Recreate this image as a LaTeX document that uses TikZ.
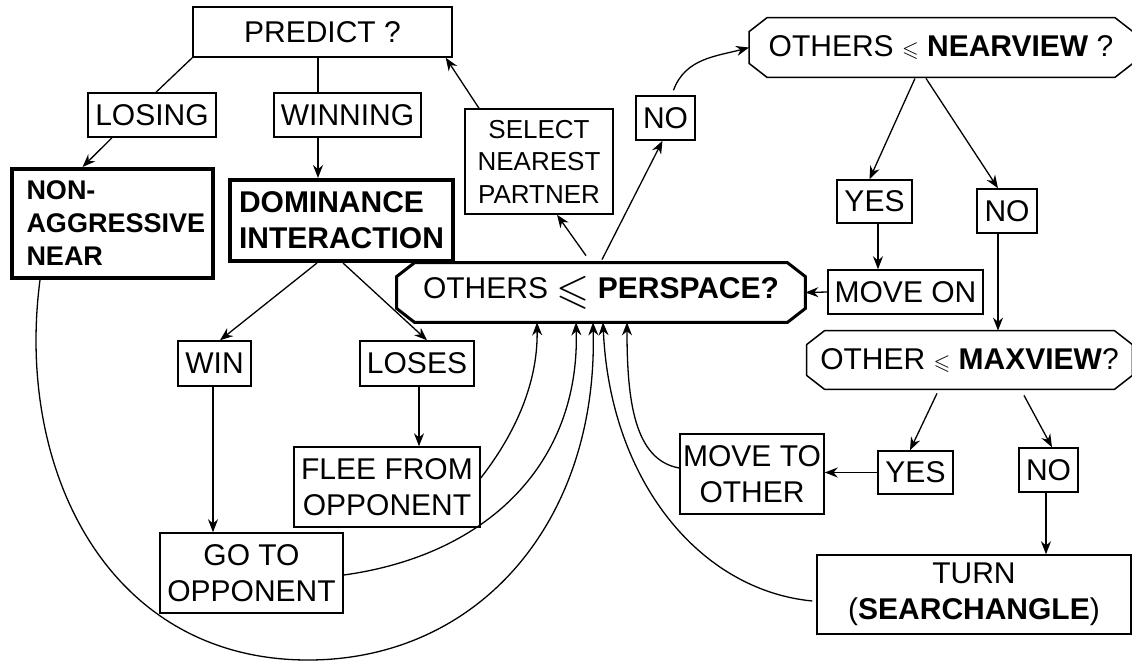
\documentclass[tikz,border=0pt]{standalone}
\usepackage{amssymb}
\usepackage{graphicx}
\usepackage{fontspec}
\setmainfont{Liberation Sans}
\usetikzlibrary{arrows.meta,calc}

% octagon frame round a named node: #1 node, #2 line width
\newcommand{\octframe}[2]{%
  \draw[line width=#2] ([xshift=9pt]#1.north west) -- ([xshift=-9pt]#1.north east)
    -- ([yshift=-7pt]#1.north east) -- ([yshift=7pt]#1.south east)
    -- ([xshift=-9pt]#1.south east) -- ([xshift=9pt]#1.south west)
    -- ([yshift=7pt]#1.south west) -- ([yshift=-7pt]#1.north west) -- cycle;}

\begin{document}
\begin{tikzpicture}[x=0.5pt,y=0.5pt,
    every node/.style={font=\fontsize{15}{18}\selectfont, inner sep=0pt, align=center},
    box/.style={draw, line width=0.75pt},
    bigbox/.style={draw, line width=2pt, font=\bfseries\fontsize{15}{18}\selectfont, align=left},
    conn/.style={-{Stealth[length=6.5pt,width=5pt]}, line width=0.65pt},
    link/.style={line width=0.65pt}]
    \useasboundingbox (0,0) rectangle (1132,-661);
    % left part
    \node[box, minimum width=129.5pt, minimum height=25pt] (predict) at (322.5,-32) {PREDICT ?};
    \node[box, minimum width=64pt, minimum height=22pt] (losing) at (152,-115) {LOSING};
    \node[box, minimum width=73.5pt, minimum height=22pt] (winning) at (347.5,-115) {WINNING};
    \node[bigbox, minimum width=100.5pt, minimum height=54.5pt, text width=86pt,
      font=\bfseries\fontsize{13.5}{16.5}\selectfont] (nonagg) at (112.5,-223.5) {NON-\\AGGRESSIVE\\NEAR};
    \node[bigbox, minimum width=111.5pt, minimum height=40.5pt] (dominance) at (341.5,-220.5) {DOMINANCE\\INTERACTION};
    \node[box, minimum width=36.5pt, minimum height=22.5pt] (win) at (214.5,-363.5) {WIN};
    \node[box, minimum width=57pt, minimum height=22.5pt] (loses) at (417,-363.5) {LOSES};
    \node[box, minimum width=93pt, minimum height=40pt] (flee) at (387,-487) {FLEE FROM\\OPPONENT};
    \node[box, minimum width=91.5pt, minimum height=40pt] (goto) at (251.5,-573) {GO TO\\OPPONENT};
    % centre
    \node[minimum width=204pt, minimum height=29.5pt] (perspace) at (601,-292.5)
      {OTHERS \raisebox{-0.3ex}{\scalebox{1.42}{$\leqslant$}} \textbf{PERSPACE?}};
    \octframe{perspace}{1.5pt}
    \node[box, minimum width=74pt, minimum height=52.5pt, font=\fontsize{13}{16.25}\selectfont] (select) at (539,-161.5)
      {SELECT\\NEAREST\\PARTNER};
    \node[box, minimum width=29.5pt, minimum height=22pt] (noA) at (665.5,-118) {NO};
    % right part
    \node[minimum width=191.5pt, minimum height=29.5pt] (nearview) at (941,-47.5)
      {OTHERS \scalebox{0.72}{$\leqslant$} \textbf{NEARVIEW} ?};
    \octframe{nearview}{0.75pt}
    \node[box, minimum width=37.5pt, minimum height=21.5pt] (yesA) at (874.5,-201.5) {YES};
    \node[box, minimum width=30pt, minimum height=22pt] (noB) at (1007,-211) {NO};
    \node[box, minimum width=77.5pt, minimum height=22pt] (moveon) at (905.5,-292) {MOVE ON};
    \node[minimum width=162.5pt, minimum height=29pt] (maxview) at (969.5,-360)
      {OTHER \scalebox{0.72}{$\leqslant$} \textbf{MAXVIEW}?};
    \octframe{maxview}{0.75pt}
    \node[box, minimum width=37.5pt, minimum height=21.5pt] (yesB) at (915.5,-472.5) {YES};
    \node[box, minimum width=29.5pt, minimum height=22pt] (noC) at (1048.5,-470) {NO};
    \node[box, minimum width=72pt, minimum height=40pt] (moveto) at (752,-474) {MOVE TO\\OTHER};
    \node[box, minimum width=157pt, minimum height=39.5pt] (turn) at (974,-594.5) {TURN\\(\textbf{SEARCHANGLE})};
    \coordinate (loopbot) at (308,-660);
    % connectors
    \draw[link] (predict.south west) -- ($(losing.north)+(4,0)$);
    \draw[conn] ($(losing.south)+(-40,0)$) -- ($(nonagg.north)+(-30,0)$);
    \draw[link] ($(predict.south)+(-4.5,0)$) -- ($(winning.north)+(-29.5,0)$);
    \draw[conn] ($(winning.south)+(-29.5,0)$) -- ($(dominance.north)+(-23.5,0)$);
    \draw[conn] ($(select.north)+(-60,0)$) -- ($(predict.south east)+(-7,0)$);
    \draw[conn] ($(perspace.north)+(-15,7)$) -- ($(select.south)+(18,0)$);
    \draw[conn] ($(perspace.north)+(1,3)$) -- ($(noA.south)+(-3,0)$);
    \draw[conn] ($(noA.north)+(8,5)$) to[out=70,in=195] (nearview.west);
    \draw[conn] ($(nearview.south)+(-26,-1)$) -- ($(yesA.north)+(-5,0)$);
    \draw[conn] ($(nearview.south)+(-15,-1)$) -- ($(noB.north)+(-9,0)$);
    \draw[conn] ($(yesA.south)+(3.5,0)$) -- ($(moveon.north)+(-27.5,0)$);
    \draw[conn] (moveon.west) -- (perspace.east);
    \draw[conn] ($(noB.south)+(-9,0)$) -- ($(maxview.north)+(28.5,0)$);
    \draw[conn] ($(maxview.south)+(-32.5,-4)$) -- ($(yesB.north)+(-5.5,0)$);
    \draw[conn] ($(maxview.south)+(54.5,-6)$) -- ($(noC.north)+(3.5,0)$);
    \draw[conn] (yesB.west) -- (yesB.west -| moveto.east);
    \draw[conn] ($(noC.south)+(-2.5,0)$) -- ($(turn.north)+(72,0)$);
    \draw[conn] ($(moveto.west)+(0,6)$) .. controls +(-45,8) and +(0,-78) .. ($(perspace.south)+(26,0)$);
    \draw[conn] ($(turn.west)+(-4,-6.5)$) .. controls +(-113,11) and +(7,-158) .. ($(perspace.south)+(2,0)$);
    \draw[conn] ($(dominance.south)+(-24.5,0)$) -- ($(win.north)+(5.5,0)$);
    \draw[conn] ($(dominance.south)+(1.5,0)$) -- ($(loses.north)+(10,0)$);
    \draw[conn] ($(win.south)+(-1.5,0)$) -- ($(goto.north)+(-38.5,0)$);
    \draw[conn] ($(loses.south)+(2,0)$) -- ($(flee.north)+(32,0)$);
    \draw[conn] ($(flee.east)+(0,9)$) .. controls +(35,45) and +(1,-60) .. ($(perspace.south)+(-64,0)$);
    \draw[conn] ($(goto.east)+(0,-2)$) .. controls +(145,20) and +(4,-140) .. ($(perspace.south)+(-25,0)$);
    \draw[conn] ($(nonagg.south)+(-72.5,0)$) .. controls +(-25,-190) and +(-200,0) .. (loopbot)
      .. controls +(170,0) and +(5,-200) .. ($(perspace.south)+(-8,0)$);
\end{tikzpicture}
\end{document}
